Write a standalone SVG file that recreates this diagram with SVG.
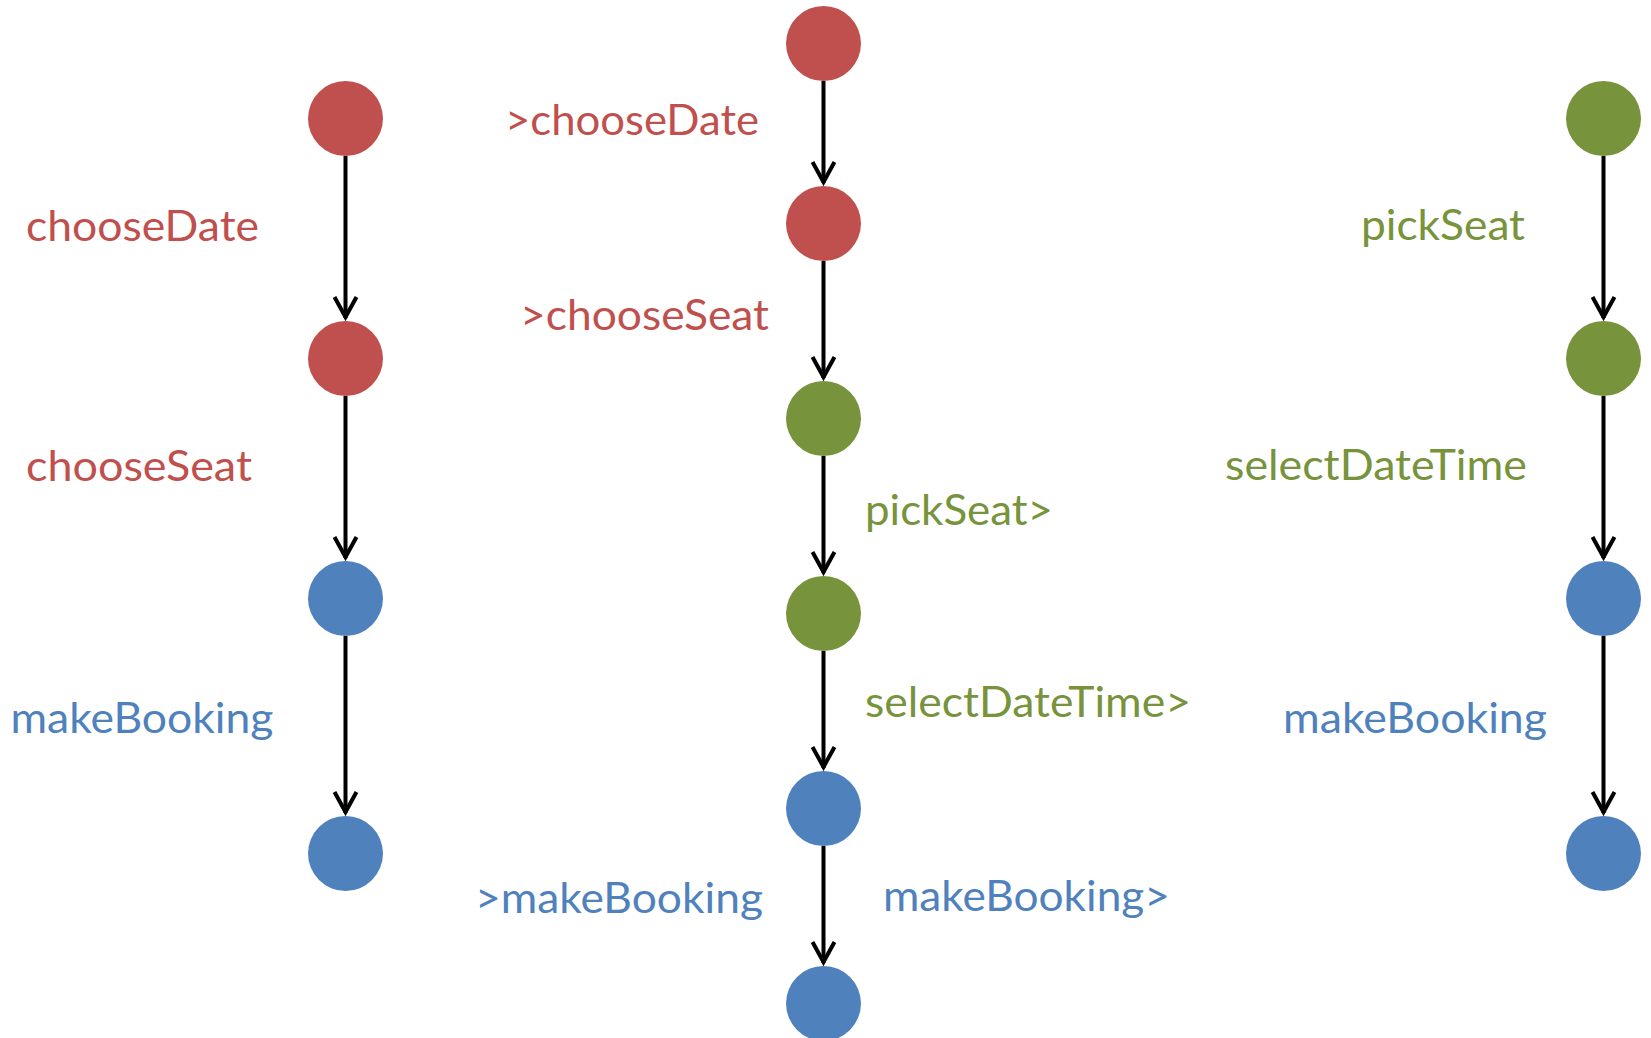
<svg xmlns="http://www.w3.org/2000/svg" width="1651" height="1038" viewBox="0 0 1651 1038">
  <style>
    .red { fill: #C0504D; }
    .green { fill: #77933C; }
    .blue { fill: #4F81BD; }
    text { font-family: "Lato", "Liberation Sans", sans-serif; font-size: 43px; }
    .edge { stroke: #000; stroke-width: 4; fill: none; marker-end: url(#arrow); }
  </style>
  <defs>
    <marker id="arrow" viewBox="-30 -15 32 30" refX="0" refY="0" markerUnits="userSpaceOnUse" markerWidth="32" markerHeight="30" orient="auto" overflow="visible">
      <path d="M-21,-11 L-1,0 L-21,11" fill="none" stroke="#000" stroke-width="4" stroke-linejoin="miter"/>
    </marker>
  </defs>
  <rect width="1651" height="1038" fill="#fff"/>

  <!-- transitions -->
  <g id="connectors">
    <!-- left trace -->
    <line class="edge" x1="345.5" y1="156" x2="345.5" y2="318"/>
    <line class="edge" x1="345.5" y1="396" x2="345.5" y2="558"/>
    <line class="edge" x1="345.5" y1="636" x2="345.5" y2="813"/>
    <!-- middle trace -->
    <line class="edge" x1="823.5" y1="81" x2="823.5" y2="183"/>
    <line class="edge" x1="823.5" y1="261" x2="823.5" y2="378"/>
    <line class="edge" x1="823.5" y1="456" x2="823.5" y2="573"/>
    <line class="edge" x1="823.5" y1="651" x2="823.5" y2="768"/>
    <line class="edge" x1="823.5" y1="846" x2="823.5" y2="963"/>
    <!-- right trace -->
    <line class="edge" x1="1603.5" y1="156" x2="1603.5" y2="318"/>
    <line class="edge" x1="1603.5" y1="396" x2="1603.5" y2="558"/>
    <line class="edge" x1="1603.5" y1="636" x2="1603.5" y2="813"/>
  </g>

  <!-- left trace states -->
  <g id="L1"><circle class="red" cx="345.5" cy="118.5" r="37.5"/></g>
  <g id="L2"><circle class="red" cx="345.5" cy="358.5" r="37.5"/></g>
  <g id="L3"><circle class="blue" cx="345.5" cy="598.5" r="37.5"/></g>
  <g id="L4"><circle class="blue" cx="345.5" cy="853.5" r="37.5"/></g>

  <!-- middle trace states -->
  <g id="M1"><circle class="red" cx="823.5" cy="43.5" r="37.5"/></g>
  <g id="M2"><circle class="red" cx="823.5" cy="223.5" r="37.5"/></g>
  <g id="M3"><circle class="green" cx="823.5" cy="418.5" r="37.5"/></g>
  <g id="M4"><circle class="green" cx="823.5" cy="613.5" r="37.5"/></g>
  <g id="M5"><circle class="blue" cx="823.5" cy="808.5" r="37.5"/></g>
  <g id="M6"><circle class="blue" cx="823.5" cy="1003.5" r="37.5"/></g>

  <!-- right trace states -->
  <g id="R1"><circle class="green" cx="1603.5" cy="118.5" r="37.5"/></g>
  <g id="R2"><circle class="green" cx="1603.5" cy="358.5" r="37.5"/></g>
  <g id="R3"><circle class="blue" cx="1603.5" cy="598.5" r="37.5"/></g>
  <g id="R4"><circle class="blue" cx="1603.5" cy="853.5" r="37.5"/></g>

  <!-- event labels -->
  <g id="labels">
    <text class="red" x="26" y="241" textLength="233" lengthAdjust="spacingAndGlyphs">chooseDate</text>
    <text class="red" x="26" y="481" textLength="226" lengthAdjust="spacingAndGlyphs">chooseSeat</text>
    <text class="blue" x="10.5" y="733" textLength="263" lengthAdjust="spacingAndGlyphs">makeBooking</text>

    <text class="red" x="505" y="135" textLength="254" lengthAdjust="spacingAndGlyphs">&gt;chooseDate</text>
    <text class="red" x="520" y="330" textLength="249" lengthAdjust="spacingAndGlyphs">&gt;chooseSeat</text>
    <text class="green" x="865" y="525" textLength="188" lengthAdjust="spacingAndGlyphs">pickSeat&gt;</text>
    <text class="green" x="865" y="717" textLength="326" lengthAdjust="spacingAndGlyphs">selectDateTime&gt;</text>
    <text class="blue" x="475" y="913" textLength="288" lengthAdjust="spacingAndGlyphs">&gt;makeBooking</text>
    <text class="blue" x="883" y="911" textLength="287" lengthAdjust="spacingAndGlyphs">makeBooking&gt;</text>

    <text class="green" x="1361" y="240" textLength="164" lengthAdjust="spacingAndGlyphs">pickSeat</text>
    <text class="green" x="1225" y="480" textLength="302" lengthAdjust="spacingAndGlyphs">selectDateTime</text>
    <text class="blue" x="1283" y="733" textLength="264" lengthAdjust="spacingAndGlyphs">makeBooking</text>
  </g>
</svg>
